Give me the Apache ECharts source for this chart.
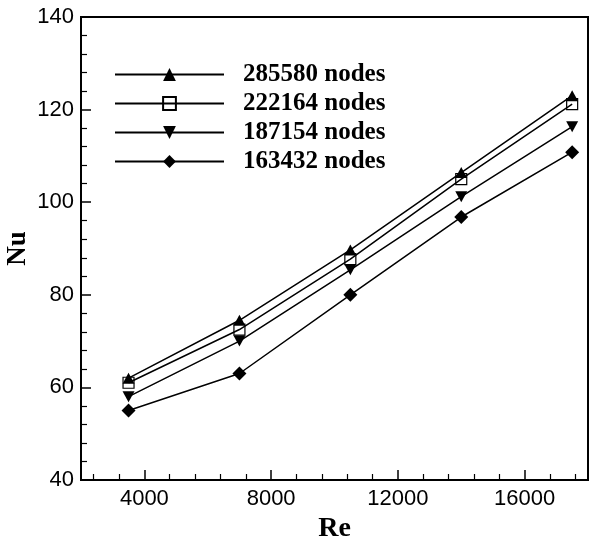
<!DOCTYPE html>
<html>
<head>
<meta charset="utf-8">
<script src="https://cdn.jsdelivr.net/npm/echarts@6/dist/echarts.min.js"></script>
<style>
  html, body { margin: 0; padding: 0; background: #fff; }
  #chart { width: 603px; height: 541px; }
</style>
</head>
<body>
<div id="chart"></div>
<script>
var re = [3500, 7000, 10500, 14000, 17500];
var nodes285580 = [62, 74.5, 89.7, 106.4, 123];
var nodes222164 = [61, 72.5, 87.7, 105, 121.2];
var nodes187154 = [58, 70, 85.4, 101.2, 116.3];
var nodes163432 = [55, 63, 80, 96.8, 110.8];
var seriesNames = ['285580 nodes', '222164 nodes', '187154 nodes', '163432 nodes'];
var reMajorTicks = [4000, 8000, 12000, 16000];
var reMinorTicks = [2400, 3200, 4800, 5600, 6400, 7200, 8800, 9600, 10400, 11200,
    12800, 13600, 14400, 15200, 16800, 17600];

function pairs(ys) {
    var out = [];
    for (var i = 0; i < re.length; i++) {
        out.push([re[i], ys[i]]);
    }
    return out;
}

var chart = echarts.init(document.getElementById('chart'));
var black = '#000';
var lineStyle = { color: black, width: 1.5 };

chart.setOption({
    animation: false,
    backgroundColor: '#fff',
    grid: {
        left: 81, right: 15, top: 17, bottom: 61,
        outerBoundsMode: 'none',
        containLabel: false,
        show: true,
        borderColor: black,
        borderWidth: 2
    },
    legend: {
        orient: 'vertical',
        left: 114,
        top: 62,
        padding: 0,
        itemWidth: 109,
        itemHeight: 16,
        itemGap: 4,
        data: seriesNames,
        lineStyle: { width: 2 },
        textStyle: {
            fontFamily: 'Liberation Serif',
            fontWeight: 'bold',
            fontSize: 25,
            color: black,
            lineHeight: 25,
            padding: [0, 0, 0, 14]
        }
    },
    xAxis: [{
        type: 'value',
        min: 2000,
        max: 18000,
        name: 'Re',
        nameLocation: 'middle',
        nameGap: 34,
        nameTextStyle: {
            fontFamily: 'Liberation Serif',
            fontWeight: 'bold',
            fontSize: 28,
            color: black
        },
        axisLine: { lineStyle: { color: black, width: 2 } },
        axisTick: {
            inside: true,
            length: 10,
            customValues: reMajorTicks,
            lineStyle: { color: black, width: 1.5 }
        },
        axisLabel: {
            customValues: reMajorTicks,
            formatter: function (v) { return String(v); },
            margin: 8,
            fontFamily: 'Liberation Sans',
            fontSize: 22,
            color: black
        },
        splitLine: { show: false }
    }, {
        type: 'value',
        min: 2000,
        max: 18000,
        position: 'bottom',
        axisLine: { show: false },
        axisTick: {
            inside: true,
            length: 6,
            customValues: reMinorTicks,
            lineStyle: { color: black, width: 1.2 }
        },
        axisLabel: { show: false },
        splitLine: { show: false }
    }],
    yAxis: {
        type: 'value',
        min: 40,
        max: 140,
        interval: 20,
        name: 'Nu',
        nameLocation: 'middle',
        nameGap: 49,
        nameMoveOverlap: false,
        nameRotate: 90,
        nameTextStyle: {
            fontFamily: 'Liberation Serif',
            fontWeight: 'bold',
            fontSize: 27,
            color: black
        },
        axisLine: { show: true, lineStyle: { color: black, width: 2 } },
        axisTick: {
            show: true,
            inside: true,
            length: 10,
            lineStyle: { color: black, width: 1.5 }
        },
        minorTick: {
            show: true,
            splitNumber: 5,
            length: 6,
            lineStyle: { color: black, width: 1.2 }
        },
        axisLabel: {
            margin: 7,
            fontFamily: 'Liberation Sans',
            fontSize: 22,
            color: black
        },
        splitLine: { show: false }
    },
    series: [{
        name: seriesNames[0],
        type: 'line',
        xAxisIndex: 0,
        data: pairs(nodes285580),
        symbol: 'triangle',
        symbolSize: [12, 11],
        itemStyle: { color: black },
        lineStyle: lineStyle
    }, {
        name: seriesNames[1],
        type: 'line',
        xAxisIndex: 0,
        data: pairs(nodes222164),
        symbol: 'rect',
        symbolSize: 11,
        itemStyle: { color: 'rgba(0,0,0,0)', borderColor: black, borderWidth: 1.2 },
        lineStyle: lineStyle
    }, {
        name: seriesNames[2],
        type: 'line',
        xAxisIndex: 0,
        data: pairs(nodes187154),
        symbol: 'path://M0,0 L10,0 L5,10 Z',
        symbolSize: [12, 11],
        itemStyle: { color: black },
        lineStyle: lineStyle
    }, {
        name: seriesNames[3],
        type: 'line',
        xAxisIndex: 0,
        data: pairs(nodes163432),
        symbol: 'diamond',
        symbolSize: [14, 14],
        itemStyle: { color: black },
        lineStyle: lineStyle
    }]
});
</script>
</body>
</html>
